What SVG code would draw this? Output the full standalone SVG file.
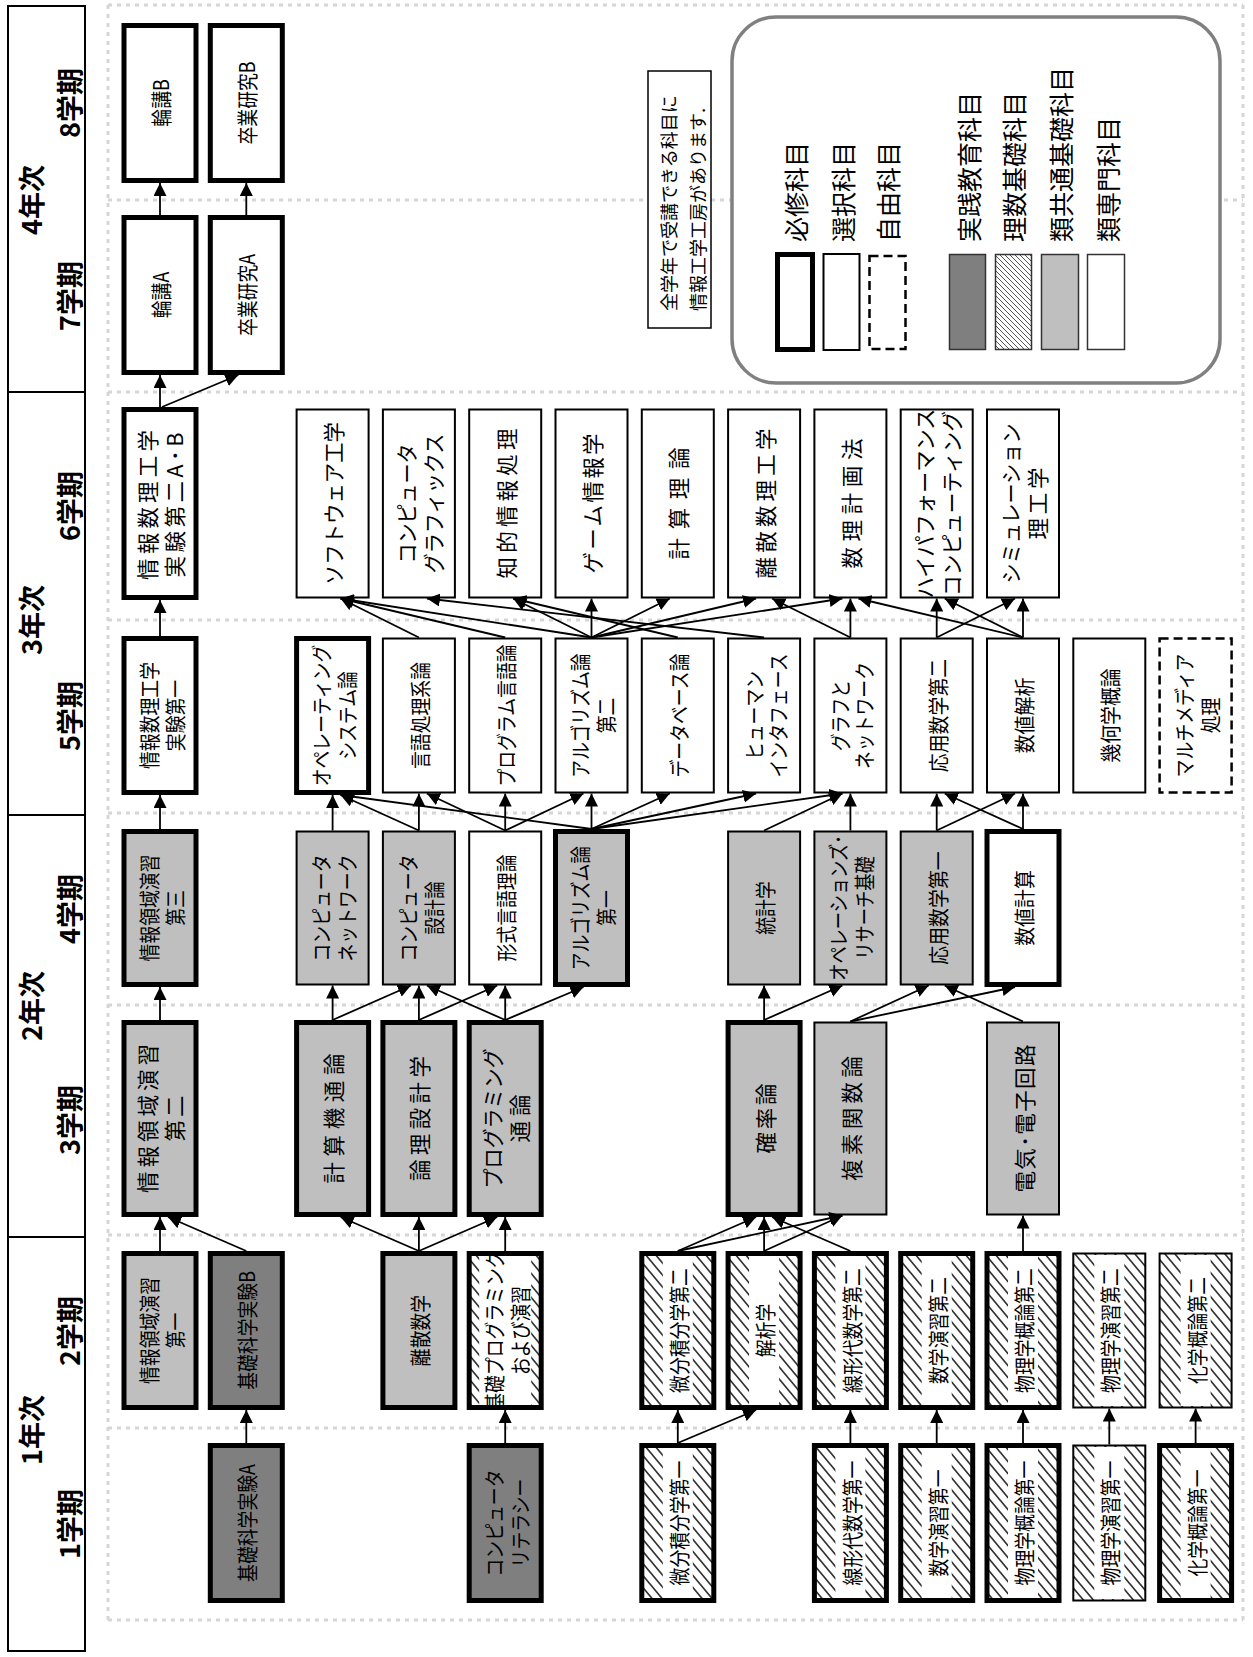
<svg xmlns="http://www.w3.org/2000/svg" width="1253" height="1657" viewBox="0 0 1253 1657">
<defs>
<style>
.b{stroke:#000}
.k{stroke-width:5}
.n{stroke-width:2}
.d{stroke-width:2.5;stroke-dasharray:9 5}
.w{fill:#fff}
.g1{fill:#bfbfbf}
.g2{fill:#7f7f7f}
.h{fill:url(#hatch)}
.wb{fill:#fff;stroke:none}
.t{font-family:"Noto Sans CJK JP","Noto Sans",sans-serif;font-size:21px;text-anchor:middle;dominant-baseline:central;fill:#000}
.t tspan{dominant-baseline:central}
.L{font-size:21.5px}
.hd{font-family:"Noto Sans CJK JP",sans-serif;font-weight:bold;font-size:27px;text-anchor:middle;dominant-baseline:central}
.lt{font-family:"Noto Sans CJK JP",sans-serif;font-size:25px;dominant-baseline:central}
.nt{font-family:"Noto Sans CJK JP",sans-serif;font-size:18px;dominant-baseline:central}
.nt tspan{dominant-baseline:central}
.conn line{stroke:#000;stroke-width:1.8;marker-end:url(#ah)}
.grid line{stroke:#d6d6d6;stroke-width:3;stroke-dasharray:4 5}
</style>
<marker id="ah" markerUnits="userSpaceOnUse" viewBox="0 0 13 13" markerWidth="13" markerHeight="13" refX="13" refY="6.5" orient="auto"><path d="M0,0 L13,6.5 L0,13 z" fill="#000"/></marker>
<pattern id="hatch" patternUnits="userSpaceOnUse" width="10" height="12"><rect width="10" height="12" fill="#fff"/><path d="M-2,9.6 L2,14.4 M0,0 L10,12 M8,-2.4 L12,2.4" stroke="#333" stroke-width="1.7"/></pattern>
<pattern id="hatch2" patternUnits="userSpaceOnUse" width="5" height="5"><rect width="5" height="5" fill="#fff"/><path d="M-1,4 L1,6 M0,0 L5,5 M4,-1 L6,1" stroke="#555" stroke-width="1"/></pattern>
</defs>
<rect width="1253" height="1657" fill="#fff"/>

<g id="grid" class="grid">
<line x1="108" y1="5" x2="1243" y2="5"/>
<line x1="108" y1="200" x2="1243" y2="200"/>
<line x1="108" y1="392" x2="1243" y2="392"/>
<line x1="108" y1="620" x2="1243" y2="620"/>
<line x1="108" y1="813" x2="1243" y2="813"/>
<line x1="108" y1="1005" x2="1243" y2="1005"/>
<line x1="108" y1="1235" x2="1243" y2="1235"/>
<line x1="108" y1="1428" x2="1243" y2="1428"/>
<line x1="108" y1="1620" x2="1243" y2="1620"/>
<line x1="108" y1="5" x2="108" y2="1620"/>
<line x1="1243" y1="5" x2="1243" y2="1620"/>
</g>

<g id="header">
<rect x="8" y="6" width="77" height="1645" fill="#fff" stroke="#000" stroke-width="2"/>
<line x1="8" y1="392" x2="85" y2="392" stroke="#000" stroke-width="2"/>
<line x1="8" y1="815" x2="85" y2="815" stroke="#000" stroke-width="2"/>
<line x1="8" y1="1237" x2="85" y2="1237" stroke="#000" stroke-width="2"/>
<text class="hd" transform="translate(30,200) rotate(-90)">4年次</text>
<text class="hd" transform="translate(30,620) rotate(-90)">3年次</text>
<text class="hd" transform="translate(30,1006) rotate(-90)">2年次</text>
<text class="hd" transform="translate(30,1430) rotate(-90)">1年次</text>
<text class="hd" transform="translate(68,103) rotate(-90)">8学期</text>
<text class="hd" transform="translate(68,296) rotate(-90)">7学期</text>
<text class="hd" transform="translate(68,506) rotate(-90)">6学期</text>
<text class="hd" transform="translate(68,716) rotate(-90)">5学期</text>
<text class="hd" transform="translate(68,909) rotate(-90)">4学期</text>
<text class="hd" transform="translate(68,1120) rotate(-90)">3学期</text>
<text class="hd" transform="translate(68,1331) rotate(-90)">2学期</text>
<text class="hd" transform="translate(68,1524) rotate(-90)">1学期</text>
</g>

<g id="legend">
<rect x="732" y="17" width="488" height="366" rx="44" fill="#fff" stroke="#808080" stroke-width="3.5"/>
<rect x="777.5" y="254.5" width="35" height="95" fill="#fff" stroke="#000" stroke-width="5"/>
<rect x="823.5" y="254" width="36" height="96" fill="#fff" stroke="#000" stroke-width="2"/>
<rect x="869.5" y="256" width="36" height="93" fill="#fff" stroke="#000" stroke-width="2.5" stroke-dasharray="9 5"/>
<rect x="949.5" y="254.5" width="36" height="95" fill="#7f7f7f" stroke="#333" stroke-width="1.5"/>
<rect x="995.5" y="254.5" width="36" height="95" fill="url(#hatch2)" stroke="#333" stroke-width="1.5"/>
<rect x="1041.5" y="254.5" width="37" height="95" fill="#bfbfbf" stroke="#333" stroke-width="1.5"/>
<rect x="1087.5" y="254.5" width="37" height="95" fill="#fff" stroke="#333" stroke-width="1.5"/>
<text class="lt" transform="translate(795,242) rotate(-90)">必修科目</text>
<text class="lt" transform="translate(842,242) rotate(-90)">選択科目</text>
<text class="lt" transform="translate(887,242) rotate(-90)">自由科目</text>
<text class="lt" transform="translate(968,242) rotate(-90)">実践教育科目</text>
<text class="lt" transform="translate(1013,242) rotate(-90)">理数基礎科目</text>
<text class="lt" transform="translate(1060,242) rotate(-90)">類共通基礎科目</text>
<text class="lt" transform="translate(1107,242) rotate(-90)">類専門科目</text>
</g>

<g id="note">
<rect x="648" y="71" width="63" height="257" fill="#fff" stroke="#000" stroke-width="1.5"/>
<text class="nt" transform="translate(682.5,311) rotate(-90)"><tspan x="0" y="-14.5">全学年で受講できる科目に</tspan><tspan x="0" y="14.5">情報工学工房があります.</tspan></text>
</g>

<g id="nodes">
<!-- row 8 -->
<g id="n-rinkoB"><rect class="b k w" x="124" y="25.5" width="72" height="155"/><text class="t" transform="translate(160,103) rotate(-90) scale(0.85,1)">輪講B</text></g>
<g id="n-sotsuB"><rect class="b k w" x="210.3" y="25.5" width="72" height="155"/><text class="t" transform="translate(246.3,103) rotate(-90) scale(0.85,1)">卒業研究B</text></g>
<!-- row 7 -->
<g id="n-rinkoA"><rect class="b k w" x="124" y="217.5" width="72" height="155"/><text class="t" transform="translate(160,295) rotate(-90) scale(0.85,1)">輪講A</text></g>
<g id="n-sotsuA"><rect class="b k w" x="210.3" y="217.5" width="72" height="155"/><text class="t" transform="translate(246.3,295) rotate(-90) scale(0.85,1)">卒業研究A</text></g>
<!-- row 6 -->
<g id="n-jikken2"><rect class="b k w" x="124" y="409.5" width="72" height="188"/><text class="t L" transform="translate(146.5,505) rotate(-90)" textLength="150" lengthAdjust="spacing">情報数理工学</text><text class="t L" transform="translate(173.5,505) rotate(-90)" textLength="145" lengthAdjust="spacing">実験第二A･B</text></g>
<g id="n-software"><rect class="b n w" x="296.6" y="409.5" width="72" height="188"/><text class="t L" transform="translate(332.6,503.5) rotate(-90)" textLength="163" lengthAdjust="spacingAndGlyphs">ソフトウェア工学</text></g>
<g id="n-cg"><rect class="b n w" x="382.9" y="409.5" width="72" height="188"/><text class="t L" transform="translate(405.4,503.5) rotate(-90)" textLength="120" lengthAdjust="spacingAndGlyphs">コンピュータ</text><text class="t L" transform="translate(432.4,503.5) rotate(-90)" textLength="140" lengthAdjust="spacingAndGlyphs">グラフィックス</text></g>
<g id="n-chiteki"><rect class="b n w" x="469.2" y="409.5" width="72" height="188"/><text class="t L" transform="translate(505.2,503.5) rotate(-90)" textLength="150" lengthAdjust="spacing">知的情報処理</text></g>
<g id="n-game"><rect class="b n w" x="555.5" y="409.5" width="72" height="188"/><text class="t L" transform="translate(591.5,503.5) rotate(-90)" textLength="140" lengthAdjust="spacing">ゲーム情報学</text></g>
<g id="n-keisanriron"><rect class="b n w" x="641.8" y="409.5" width="72" height="188"/><text class="t L" transform="translate(677.8,503.5) rotate(-90)" textLength="112" lengthAdjust="spacing">計算理論</text></g>
<g id="n-risansuri"><rect class="b n w" x="728.1" y="409.5" width="72" height="188"/><text class="t L" transform="translate(764.1,503.5) rotate(-90)" textLength="150" lengthAdjust="spacing">離散数理工学</text></g>
<g id="n-surikeikaku"><rect class="b n w" x="814.4" y="409.5" width="72" height="188"/><text class="t L" transform="translate(850.4,503.5) rotate(-90)" textLength="130" lengthAdjust="spacing">数理計画法</text></g>
<g id="n-hpc"><rect class="b n w" x="900.7" y="409.5" width="72" height="188"/><text class="t L" transform="translate(923.2,503.5) rotate(-90)" textLength="190" lengthAdjust="spacingAndGlyphs">ハイパフォーマンス</text><text class="t L" transform="translate(950.2,503.5) rotate(-90)" textLength="185" lengthAdjust="spacingAndGlyphs">コンピューティング</text></g>
<g id="n-sim"><rect class="b n w" x="987" y="409.5" width="72" height="188"/><text class="t L" transform="translate(1009.5,503.5) rotate(-90)" textLength="160" lengthAdjust="spacingAndGlyphs">シミュレーション</text><text class="t L" transform="translate(1036.5,503.5) rotate(-90)" textLength="72" lengthAdjust="spacing">理工学</text></g>
<!-- row 5 -->
<g id="n-jikken1"><rect class="b k w" x="124" y="638.5" width="72" height="154"/><text class="t" transform="translate(160,715.5) rotate(-90) scale(0.85,1)"><tspan x="0" y="-13">情報数理工学</tspan><tspan x="0" y="13">実験第一</tspan></text></g>
<g id="n-os"><rect class="b k w" x="296.6" y="638.5" width="72" height="154"/><text class="t" transform="translate(332.6,715.5) rotate(-90) scale(0.85,1)"><tspan x="0" y="-13">オペレーティング</tspan><tspan x="0" y="13">システム論</tspan></text></g>
<g id="n-gengo"><rect class="b n w" x="382.9" y="638.5" width="72" height="154"/><text class="t" transform="translate(418.9,715.5) rotate(-90) scale(0.85,1)">言語処理系論</text></g>
<g id="n-proglang"><rect class="b n w" x="469.2" y="638.5" width="72" height="154"/><text class="t" transform="translate(505.2,715.5) rotate(-90) scale(0.85,1)">プログラム言語論</text></g>
<g id="n-algo2"><rect class="b n w" x="555.5" y="638.5" width="72" height="154"/><text class="t" transform="translate(591.5,715.5) rotate(-90) scale(0.85,1)"><tspan x="0" y="-13">アルゴリズム論</tspan><tspan x="0" y="13">第二</tspan></text></g>
<g id="n-db"><rect class="b n w" x="641.8" y="638.5" width="72" height="154"/><text class="t" transform="translate(677.8,715.5) rotate(-90) scale(0.85,1)">データベース論</text></g>
<g id="n-hi"><rect class="b n w" x="728.1" y="638.5" width="72" height="154"/><text class="t" transform="translate(764.1,715.5) rotate(-90) scale(0.85,1)"><tspan x="0" y="-12">ヒューマン</tspan><tspan x="0" y="12">インタフェース</tspan></text></g>
<g id="n-graph"><rect class="b n w" x="814.4" y="638.5" width="72" height="154"/><text class="t" transform="translate(850.4,715.5) rotate(-90) scale(0.85,1)"><tspan x="0" y="-12">グラフと</tspan><tspan x="0" y="12">ネットワーク</tspan></text></g>
<g id="n-ouyou2"><rect class="b n w" x="900.7" y="638.5" width="72" height="154"/><text class="t" transform="translate(936.7,715.5) rotate(-90) scale(0.9,1)">応用数学第二</text></g>
<g id="n-suchikaiseki"><rect class="b n w" x="987" y="638.5" width="72" height="154"/><text class="t" transform="translate(1023,715.5) rotate(-90) scale(0.9,1)">数値解析</text></g>
<g id="n-kika"><rect class="b n w" x="1073.3" y="638.5" width="72" height="154"/><text class="t" transform="translate(1109.3,715.5) rotate(-90) scale(0.9,1)">幾何学概論</text></g>
<g id="n-mm"><rect class="b d w" x="1159.6" y="638.5" width="72" height="154"/><text class="t" transform="translate(1195.6,715.5) rotate(-90) scale(0.85,1)"><tspan x="0" y="-13">マルチメディア</tspan><tspan x="0" y="13">処理</tspan></text></g>
<!-- row 4 -->
<g id="n-enshu3"><rect class="b k g1" x="124" y="831.5" width="72" height="153"/><text class="t" transform="translate(160,908) rotate(-90) scale(0.85,1)"><tspan x="0" y="-13">情報領域演習</tspan><tspan x="0" y="13">第三</tspan></text></g>
<g id="n-network"><rect class="b n g1" x="296.6" y="831.5" width="72" height="153"/><text class="t" transform="translate(332.6,908) rotate(-90) scale(0.85,1)"><tspan x="0" y="-13">コンピュータ</tspan><tspan x="0" y="13">ネットワーク</tspan></text></g>
<g id="n-sekkei"><rect class="b n g1" x="382.9" y="831.5" width="72" height="153"/><text class="t" transform="translate(418.9,908) rotate(-90) scale(0.85,1)"><tspan x="0" y="-13">コンピュータ</tspan><tspan x="0" y="13">設計論</tspan></text></g>
<g id="n-keishiki"><rect class="b n w" x="469.2" y="831.5" width="72" height="153"/><text class="t" transform="translate(505.2,908) rotate(-90) scale(0.85,1)">形式言語理論</text></g>
<g id="n-algo1"><rect class="b k g1" x="555.5" y="831.5" width="72" height="153"/><text class="t" transform="translate(591.5,908) rotate(-90) scale(0.85,1)"><tspan x="0" y="-13">アルゴリズム論</tspan><tspan x="0" y="13">第一</tspan></text></g>
<g id="n-toukei"><rect class="b n g1" x="728.1" y="831.5" width="72" height="153"/><text class="t" transform="translate(764.1,908) rotate(-90) scale(0.85,1)">統計学</text></g>
<g id="n-or"><rect class="b n g1" x="814.4" y="831.5" width="72" height="153"/><text class="t" transform="translate(850.4,908) rotate(-90) scale(0.82,1)"><tspan x="0" y="-13">オペレーションズ･</tspan><tspan x="0" y="13">リサーチ基礎</tspan></text></g>
<g id="n-ouyou1"><rect class="b n g1" x="900.7" y="831.5" width="72" height="153"/><text class="t" transform="translate(936.7,908) rotate(-90) scale(0.9,1)">応用数学第一</text></g>
<g id="n-suchikeisan"><rect class="b k w" x="987" y="831.5" width="72" height="153"/><text class="t" transform="translate(1023,908) rotate(-90) scale(0.9,1)">数値計算</text></g>
<!-- row 3 -->
<g id="n-enshu2"><rect class="b k g1" x="124" y="1022.5" width="72" height="192"/><text class="t L" transform="translate(146.5,1118.5) rotate(-90)" textLength="149" lengthAdjust="spacing">情報領域演習</text><text class="t L" transform="translate(173.5,1118.5) rotate(-90)" textLength="46" lengthAdjust="spacing">第二</text></g>
<g id="n-keisanki"><rect class="b k g1" x="296.6" y="1022.5" width="72" height="192"/><text class="t L" transform="translate(332.6,1118.5) rotate(-90)" textLength="130" lengthAdjust="spacing">計算機通論</text></g>
<g id="n-ronri"><rect class="b k g1" x="382.9" y="1022.5" width="72" height="192"/><text class="t L" transform="translate(418.9,1118.5) rotate(-90)" textLength="125" lengthAdjust="spacing">論理設計学</text></g>
<g id="n-progtsu"><rect class="b k g1" x="469.2" y="1022.5" width="72" height="192"/><text class="t L" transform="translate(491.7,1118.5) rotate(-90)" textLength="140" lengthAdjust="spacingAndGlyphs">プログラミング</text><text class="t L" transform="translate(518.7,1118.5) rotate(-90)" textLength="48" lengthAdjust="spacing">通論</text></g>
<g id="n-kakuritsu"><rect class="b k g1" x="728.1" y="1022.5" width="72" height="192"/><text class="t L" transform="translate(764.1,1118.5) rotate(-90)" textLength="70" lengthAdjust="spacing">確率論</text></g>
<g id="n-fukuso"><rect class="b n g1" x="814.4" y="1022.5" width="72" height="192"/><text class="t L" transform="translate(850.4,1118.5) rotate(-90)" textLength="125" lengthAdjust="spacing">複素関数論</text></g>
<g id="n-denki"><rect class="b n g1" x="987" y="1022.5" width="72" height="192"/><text class="t L" transform="translate(1023,1118.5) rotate(-90)" textLength="148" lengthAdjust="spacing">電気･電子回路</text></g>
<!-- row 2 -->
<g id="n-enshu1"><rect class="b k g1" x="124" y="1253.5" width="72" height="154"/><text class="t" transform="translate(160,1330.5) rotate(-90) scale(0.85,1)"><tspan x="0" y="-13">情報領域演習</tspan><tspan x="0" y="13">第一</tspan></text></g>
<g id="n-kisoB"><rect class="b k g2" x="210.3" y="1253.5" width="72" height="154"/><text class="t" transform="translate(246.3,1330.5) rotate(-90) scale(0.85,1)">基礎科学実験B</text></g>
<g id="n-risan"><rect class="b k g1" x="382.9" y="1253.5" width="72" height="154"/><text class="t" transform="translate(418.9,1330.5) rotate(-90) scale(0.85,1)">離散数学</text></g>
<g id="n-kisoprog"><rect class="b k h" x="469.2" y="1253.5" width="72" height="154"/><rect class="wb" x="479.2" y="1256" width="52" height="149"/><text class="t" transform="translate(505.2,1330.5) rotate(-90) scale(0.85,1)"><tspan x="0" y="-13">基礎プログラミング</tspan><tspan x="0" y="13">および演習</tspan></text></g>
<g id="n-bibun2"><rect class="b k h" x="641.8" y="1253.5" width="72" height="154"/><rect class="wb" x="662.8" y="1256" width="30" height="149"/><text class="t" transform="translate(677.8,1330.5) rotate(-90) scale(0.85,1)">微分積分学第二</text></g>
<g id="n-kaiseki"><rect class="b k h" x="728.1" y="1253.5" width="72" height="154"/><rect class="wb" x="749.1" y="1256" width="30" height="149"/><text class="t" transform="translate(764.1,1330.5) rotate(-90) scale(0.85,1)">解析学</text></g>
<g id="n-senkei2"><rect class="b k h" x="814.4" y="1253.5" width="72" height="154"/><rect class="wb" x="835.4" y="1256" width="30" height="149"/><text class="t" transform="translate(850.4,1330.5) rotate(-90) scale(0.85,1)">線形代数学第二</text></g>
<g id="n-suen2"><rect class="b k h" x="900.7" y="1253.5" width="72" height="154"/><rect class="wb" x="921.7" y="1256" width="30" height="149"/><text class="t" transform="translate(936.7,1330.5) rotate(-90) scale(0.85,1)">数学演習第二</text></g>
<g id="n-butsu2"><rect class="b k h" x="987" y="1253.5" width="72" height="154"/><rect class="wb" x="1008" y="1256" width="30" height="149"/><text class="t" transform="translate(1023,1330.5) rotate(-90) scale(0.85,1)">物理学概論第二</text></g>
<g id="n-butsuen2"><rect class="b n h" x="1073.3" y="1253.5" width="72" height="154"/><rect class="wb" x="1094.3" y="1255" width="30" height="151"/><text class="t" transform="translate(1109.3,1330.5) rotate(-90) scale(0.85,1)">物理学演習第二</text></g>
<g id="n-kagaku2"><rect class="b n h" x="1159.6" y="1253.5" width="72" height="154"/><rect class="wb" x="1180.6" y="1255" width="30" height="151"/><text class="t" transform="translate(1195.6,1330.5) rotate(-90) scale(0.85,1)">化学概論第二</text></g>
<!-- row 1 -->
<g id="n-kisoA"><rect class="b k g2" x="210.3" y="1445.5" width="72" height="155"/><text class="t" transform="translate(246.3,1523) rotate(-90) scale(0.85,1)">基礎科学実験A</text></g>
<g id="n-literacy"><rect class="b k g2" x="469.2" y="1445.5" width="72" height="155"/><text class="t" transform="translate(505.2,1523) rotate(-90) scale(0.85,1)"><tspan x="0" y="-13">コンピュータ</tspan><tspan x="0" y="13">リテラシー</tspan></text></g>
<g id="n-bibun1"><rect class="b k h" x="641.8" y="1445.5" width="72" height="155"/><rect class="wb" x="662.8" y="1448" width="30" height="150"/><text class="t" transform="translate(677.8,1523) rotate(-90) scale(0.85,1)">微分積分学第一</text></g>
<g id="n-senkei1"><rect class="b k h" x="814.4" y="1445.5" width="72" height="155"/><rect class="wb" x="835.4" y="1448" width="30" height="150"/><text class="t" transform="translate(850.4,1523) rotate(-90) scale(0.85,1)">線形代数学第一</text></g>
<g id="n-suen1"><rect class="b k h" x="900.7" y="1445.5" width="72" height="155"/><rect class="wb" x="921.7" y="1448" width="30" height="150"/><text class="t" transform="translate(936.7,1523) rotate(-90) scale(0.85,1)">数学演習第一</text></g>
<g id="n-butsu1"><rect class="b k h" x="987" y="1445.5" width="72" height="155"/><rect class="wb" x="1008" y="1448" width="30" height="150"/><text class="t" transform="translate(1023,1523) rotate(-90) scale(0.85,1)">物理学概論第一</text></g>
<g id="n-butsuen1"><rect class="b n h" x="1073.3" y="1445.5" width="72" height="155"/><rect class="wb" x="1094.3" y="1447" width="30" height="152"/><text class="t" transform="translate(1109.3,1523) rotate(-90) scale(0.85,1)">物理学演習第一</text></g>
<g id="n-kagaku1"><rect class="b k h" x="1159.6" y="1445.5" width="72" height="155"/><rect class="wb" x="1180.6" y="1448" width="30" height="150"/><text class="t" transform="translate(1195.6,1523) rotate(-90) scale(0.85,1)">化学概論第一</text></g>
</g>

<g id="connectors" class="conn">
<line x1="160" y1="215" x2="160" y2="183"/>
<line x1="246.3" y1="215" x2="246.3" y2="183"/>
<line x1="160" y1="407" x2="160" y2="375"/>
<line x1="162" y1="407" x2="238.3" y2="375"/>
<line x1="160" y1="636" x2="160" y2="600"/>
<line x1="418.9" y1="637.5" x2="340.6" y2="598.5"/>
<line x1="505.2" y1="637.5" x2="340.6" y2="598.5"/>
<line x1="591.5" y1="637.5" x2="340.6" y2="598.5"/>
<line x1="764.1" y1="637.5" x2="426.9" y2="598.5"/>
<line x1="591.5" y1="637.5" x2="513.2" y2="598.5"/>
<line x1="677.8" y1="637.5" x2="513.2" y2="598.5"/>
<line x1="591.5" y1="637.5" x2="591.5" y2="598.5"/>
<line x1="591.5" y1="637.5" x2="669.8" y2="598.5"/>
<line x1="591.5" y1="637.5" x2="756.1" y2="598.5"/>
<line x1="850.4" y1="637.5" x2="772.1" y2="598.5"/>
<line x1="850.4" y1="637.5" x2="850.4" y2="598.5"/>
<line x1="591.5" y1="637.5" x2="842.4" y2="598.5"/>
<line x1="1023" y1="637.5" x2="858.4" y2="598.5"/>
<line x1="936.7" y1="637.5" x2="936.7" y2="598.5"/>
<line x1="1023" y1="637.5" x2="944.7" y2="598.5"/>
<line x1="936.7" y1="637.5" x2="1015" y2="598.5"/>
<line x1="1023" y1="637.5" x2="1023" y2="598.5"/>
<line x1="160" y1="829" x2="160" y2="795"/>
<line x1="332.6" y1="830.5" x2="332.6" y2="795"/>
<line x1="418.9" y1="830.5" x2="340.6" y2="795"/>
<line x1="591.5" y1="829" x2="340.6" y2="795"/>
<line x1="418.9" y1="830.5" x2="418.9" y2="793.5"/>
<line x1="505.2" y1="830.5" x2="426.9" y2="793.5"/>
<line x1="505.2" y1="830.5" x2="505.2" y2="793.5"/>
<line x1="505.2" y1="830.5" x2="583.5" y2="793.5"/>
<line x1="591.5" y1="829" x2="591.5" y2="793.5"/>
<line x1="591.5" y1="829" x2="669.8" y2="793.5"/>
<line x1="591.5" y1="829" x2="756.1" y2="793.5"/>
<line x1="591.5" y1="829" x2="842.4" y2="793.5"/>
<line x1="764.1" y1="830.5" x2="842.4" y2="793.5"/>
<line x1="850.4" y1="830.5" x2="850.4" y2="793.5"/>
<line x1="936.7" y1="830.5" x2="936.7" y2="793.5"/>
<line x1="936.7" y1="830.5" x2="1015" y2="793.5"/>
<line x1="1023" y1="829" x2="944.7" y2="793.5"/>
<line x1="1023" y1="829" x2="1023" y2="793.5"/>
<line x1="160" y1="1020" x2="160" y2="987"/>
<line x1="332.6" y1="1020" x2="332.6" y2="985.5"/>
<line x1="332.6" y1="1020" x2="410.9" y2="985.5"/>
<line x1="418.9" y1="1020" x2="418.9" y2="985.5"/>
<line x1="505.2" y1="1020" x2="426.9" y2="985.5"/>
<line x1="418.9" y1="1020" x2="497.2" y2="985.5"/>
<line x1="505.2" y1="1020" x2="505.2" y2="985.5"/>
<line x1="505.2" y1="1020" x2="583.5" y2="987"/>
<line x1="764.1" y1="1020" x2="764.1" y2="985.5"/>
<line x1="764.1" y1="1020" x2="842.4" y2="985.5"/>
<line x1="850.4" y1="1021.5" x2="928.7" y2="985.5"/>
<line x1="1023" y1="1021.5" x2="944.7" y2="985.5"/>
<line x1="850.4" y1="1021.5" x2="1015" y2="987"/>
<line x1="160" y1="1251" x2="160" y2="1217"/>
<line x1="246.3" y1="1251" x2="168" y2="1217"/>
<line x1="418.9" y1="1251" x2="340.6" y2="1217"/>
<line x1="418.9" y1="1251" x2="418.9" y2="1217"/>
<line x1="418.9" y1="1251" x2="497.2" y2="1217"/>
<line x1="505.2" y1="1251" x2="505.2" y2="1217"/>
<line x1="677.8" y1="1251" x2="756.1" y2="1217"/>
<line x1="677.8" y1="1251" x2="842.4" y2="1215.5"/>
<line x1="764.1" y1="1251" x2="764.1" y2="1217"/>
<line x1="764.1" y1="1251" x2="842.4" y2="1215.5"/>
<line x1="850.4" y1="1251" x2="772.1" y2="1217"/>
<line x1="1023" y1="1251" x2="1023" y2="1215.5"/>
<line x1="246.3" y1="1443" x2="246.3" y2="1410"/>
<line x1="505.2" y1="1443" x2="505.2" y2="1410"/>
<line x1="677.8" y1="1443" x2="677.8" y2="1410"/>
<line x1="677.8" y1="1443" x2="756.1" y2="1410"/>
<line x1="850.4" y1="1443" x2="850.4" y2="1410"/>
<line x1="936.7" y1="1443" x2="936.7" y2="1410"/>
<line x1="1023" y1="1443" x2="1023" y2="1410"/>
<line x1="1109.3" y1="1444.5" x2="1109.3" y2="1408.5"/>
<line x1="1195.6" y1="1443" x2="1195.6" y2="1408.5"/>
</g>
</svg>
